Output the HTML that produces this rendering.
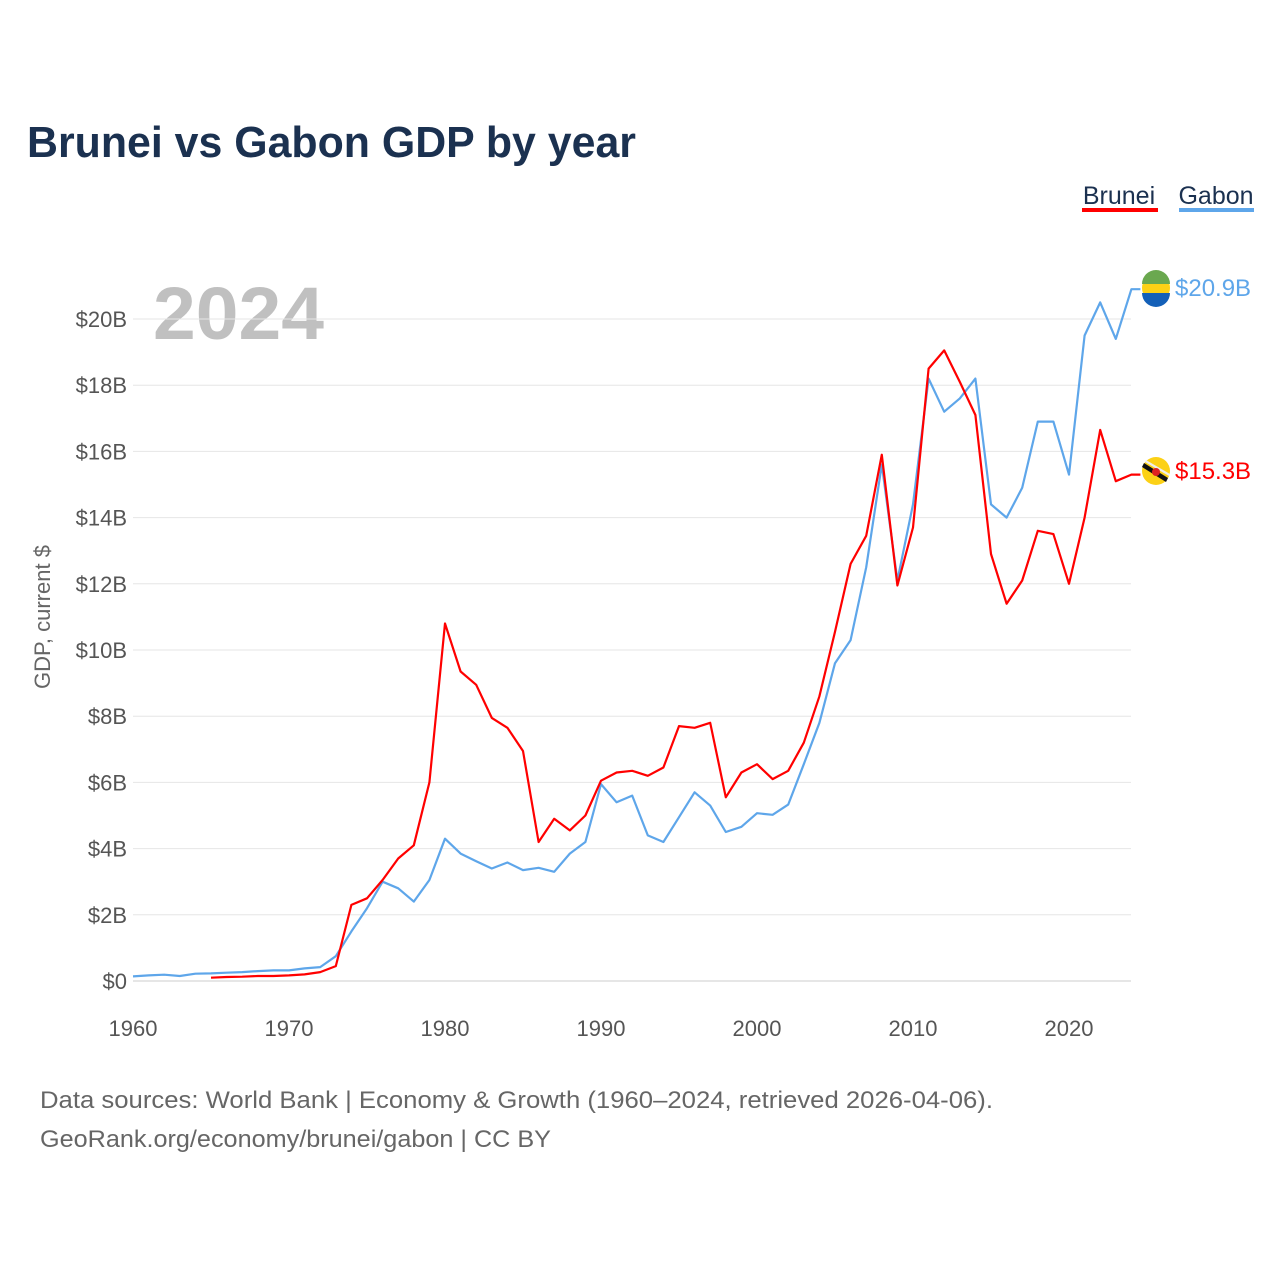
<!DOCTYPE html>
<html><head><meta charset="utf-8"><style>
body{margin:0;background:#fff;font-family:"Liberation Sans",sans-serif;}
svg text{font-family:"Liberation Sans",sans-serif;}
</style></head><body>
<svg id="chart" width="1280" height="1280" viewBox="0 0 1280 1280" xmlns="http://www.w3.org/2000/svg">
<rect width="1280" height="1280" fill="#fff"/>
<text x="27" y="157" font-size="44" font-weight="bold" fill="#1b3150" textLength="609" lengthAdjust="spacingAndGlyphs">Brunei vs Gabon GDP by year</text>
<g>
<text x="1119" y="204" font-size="25" fill="#1b3150" text-anchor="middle">Brunei</text>
<rect x="1082" y="208" width="76" height="4" fill="#ff0000"/>
<text x="1216" y="204" font-size="25" fill="#1b3150" text-anchor="middle">Gabon</text>
<rect x="1179" y="208" width="75" height="4" fill="#5ea6ea"/>
</g>
<text x="153" y="339" font-size="74" font-weight="bold" fill="#c0c0c0" textLength="171" lengthAdjust="spacingAndGlyphs">2024</text>
<text transform="translate(50,617) rotate(-90)" font-size="22" fill="#666" text-anchor="middle">GDP, current $</text>
<g id="grid"></g><g id="yticks"></g><g id="xticks"></g><g id="lines"></g>
<g>
<circle cx="1156" cy="288" r="14" fill="#fcd116"/>
<path d="M1142 284 a14 14 0 0 1 28 0z" fill="#6aa84f"/>
<path d="M1142 293 h28 a14 14 0 0 1 -28 0z" fill="#1460b8"/>
</g>
<text x="1175" y="296" font-size="24" fill="#5ea6ea">$20.9B</text>
<g>
<circle cx="1156" cy="471" r="14" fill="#fcd116"/>
<path d="M1144 463 L1168 478 L1166 482 L1142 467z" fill="#111"/>
<path d="M1146 460 L1170 474 L1169 476 L1145 462z" fill="#eee"/>
<circle cx="1156" cy="472" r="4" fill="#d22"/>
</g>
<text x="1175" y="479" font-size="24" fill="#ff0000">$15.3B</text>
<text x="40" y="1108" font-size="24" fill="#666" textLength="953" lengthAdjust="spacingAndGlyphs">Data sources: World Bank | Economy &amp; Growth (1960–2024, retrieved 2026-04-06).</text>
<text x="40" y="1147" font-size="24" fill="#666" textLength="511" lengthAdjust="spacingAndGlyphs">GeoRank.org/economy/brunei/gabon | CC BY</text>
</svg>
<script>
const gabonStart = 1960;
const gabonValues = [0.14,0.17,0.19,0.15,0.22,0.23,0.25,0.27,0.30,0.32,0.32,0.38,0.42,0.75,1.5,2.2,3.0,2.8,2.4,3.05,4.3,3.85,3.62,3.4,3.58,3.35,3.42,3.3,3.85,4.2,5.95,5.4,5.6,4.4,4.2,4.95,5.7,5.3,4.5,4.66,5.07,5.02,5.33,6.55,7.8,9.6,10.3,12.5,15.6,12.1,14.4,18.2,17.2,17.6,18.2,14.4,14.0,14.9,16.9,16.9,15.3,19.5,20.5,19.4,20.9];
const bruneiStart = 1965;
const bruneiValues = [0.1,0.12,0.13,0.15,0.15,0.17,0.2,0.27,0.45,2.3,2.5,3.05,3.7,4.1,6.0,10.8,9.35,8.95,7.95,7.65,6.95,4.2,4.9,4.55,5.0,6.05,6.3,6.35,6.2,6.45,7.7,7.65,7.8,5.55,6.3,6.55,6.1,6.35,7.2,8.6,10.55,12.6,13.45,15.9,11.95,13.7,18.5,19.05,18.1,17.1,12.9,11.4,12.1,13.6,13.5,12.0,14.0,16.65,15.1,15.3];
const yTicks = [0,2,4,6,8,10,12,14,16,18,20];
const xTicks = [1960,1970,1980,1990,2000,2010,2020];
const NS="http://www.w3.org/2000/svg";
const x = yr => 133 + (yr-1960)*15.6;
const y = v => 981 - v*33.1;
function mk(tag, attrs){const e=document.createElementNS(NS,tag);for(const k in attrs)e.setAttribute(k,attrs[k]);return e;}
const grid=document.getElementById('grid'), yt=document.getElementById('yticks'), xt=document.getElementById('xticks'), lines=document.getElementById('lines');
yTicks.forEach(t=>{
  const l=mk('line',{x1:133,x2:1131,y1:y(t),y2:y(t),stroke:t===0?'#ccc':'#e6e6e6','stroke-width':1});
  
  
  grid.appendChild(l);
  const tx=mk('text',{x:127,y:y(t)+8,'font-size':22,fill:'#555','text-anchor':'end'});
  tx.textContent='$'+t+(t?'B':'');
  
  
  yt.appendChild(tx);
});
xTicks.forEach(t=>{
  const tx=mk('text',{x:x(t),y:1036,'font-size':22,fill:'#555','text-anchor':'middle'});
  tx.textContent=t;
  
  
  xt.appendChild(tx);
});
function line(vals,start,color,name){
  const pts=vals.map((v,i)=>x(start+i).toFixed(1)+','+y(v).toFixed(1));
  const last=vals[vals.length-1];
  pts.push((x(start+vals.length-1)+9).toFixed(1)+','+y(last).toFixed(1));
  const p=mk('polyline',{points:pts.join(' '),fill:'none',stroke:color,'stroke-width':2.2,'stroke-linejoin':'round'});
  
  
  lines.appendChild(p);
}
line(gabonValues,gabonStart,'#5ea6ea','gabon-line');
line(bruneiValues,bruneiStart,'#ff0000','brunei-line');
</script>
</body></html>
